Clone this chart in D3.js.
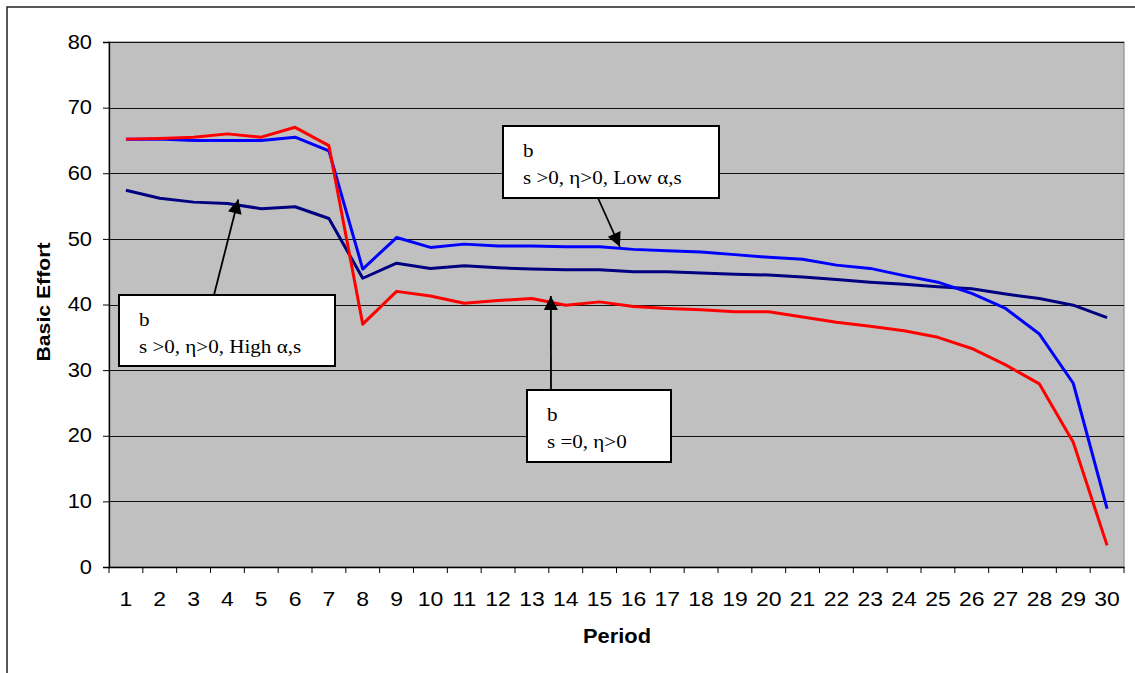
<!DOCTYPE html>
<html><head><meta charset="utf-8">
<script src="https://cdn.jsdelivr.net/npm/d3@7"></script>
<style>body{margin:0;background:#fff}svg{display:block}</style>
</head><body>
<svg id="c" width="1135" height="673"></svg>
<script>
const periods = d3.range(1, 31);
const yTicks = [0, 10, 20, 30, 40, 50, 60, 70, 80];
const highAlpha = [57.4,56.2,55.6,55.4,54.6,54.9,53.1,44.0,46.3,45.5,45.9,45.6,45.4,45.3,45.3,45.0,45.0,44.8,44.6,44.5,44.2,43.8,43.4,43.1,42.7,42.4,41.6,40.9,39.9,38.0];
const lowAlpha = [65.2,65.2,65.0,65.0,65.0,65.5,63.4,45.4,50.2,48.7,49.2,48.9,48.9,48.8,48.8,48.4,48.2,48.0,47.6,47.2,46.9,46.0,45.5,44.4,43.4,41.7,39.4,35.5,28.0,8.9];
const sZero = [65.2,65.3,65.5,66.0,65.5,67.0,64.2,37.0,42.0,41.3,40.2,40.6,40.9,39.9,40.4,39.7,39.4,39.2,38.9,38.9,38.1,37.3,36.7,36.0,35.0,33.3,30.8,27.9,19.0,3.3];
const seriesList = [
  {name:"High", values: highAlpha, color:"#000080"},
  {name:"Low", values: lowAlpha, color:"#0000FF"},
  {name:"Zero", values: sZero, color:"#FF0000"}
];
// annotation tips in data coordinates (period, value)
const notes = [
  {lines:["b","s >0, η>0, Low α,s"], box:[503,126,216,72], from:[598,198], period:15.6, value:48.8},
  {lines:["b","s >0, η>0, High α,s"], box:[119,295,216,71], from:[214,295], period:4.32, value:56.0},
  {lines:["b","s =0, η>0"], box:[527,390,144,72], from:[551,390], period:13.56, value:41.3}
];

const svg = d3.select("#c");
const L = 109, R = 1124, T = 42, B = 567;
const SX = 1.12;
const x = d3.scaleBand().domain(periods).range([L, R]).padding(0);
const xLin = d3.scaleLinear().domain([0.5, 30.5]).range([L, R]);
const y = d3.scaleLinear().domain([0, 80]).range([B, T]);
const sans = "Arial, 'Liberation Sans', sans-serif";

// outer frame
svg.append("rect").attr("x",7).attr("y",7).attr("width",1140).attr("height",700)
  .attr("fill","none").attr("stroke","#222").attr("stroke-width",1.5);

// plot bg
svg.append("rect").attr("x",L).attr("y",T).attr("width",R-L).attr("height",B-T)
  .attr("fill","#C0C0C0").attr("stroke","#8c8c8c").attr("stroke-width",1.2);

// gridlines
svg.append("g").selectAll("line").data(yTicks.filter(d=>d>0)).join("line")
  .attr("x1",L).attr("x2",R).attr("y1",d=>Math.round(y(d))+0.5).attr("y2",d=>Math.round(y(d))+0.5)
  .attr("stroke","#111").attr("stroke-width",1);

// y axis
const yAxis = svg.append("g").attr("transform",`translate(${L},0)`)
  .call(d3.axisLeft(y).tickValues(yTicks).tickSize(6).tickPadding(11));
yAxis.select(".domain").attr("stroke","#000").attr("stroke-width",1.3);
yAxis.selectAll("text").attr("font-family",sans).attr("font-size",19.5).attr("fill","#000")
  .attr("x",0).attr("transform",`translate(-17,0) scale(${SX},1)`);

// x axis
const xAxis = svg.append("g").attr("transform",`translate(0,${B})`)
  .call(d3.axisBottom(x).tickSize(0).tickPadding(24));
xAxis.select(".domain").attr("stroke","#000").attr("stroke-width",1.3);
xAxis.selectAll("text").attr("font-family",sans).attr("font-size",20.5).attr("fill","#000")
  .attr("transform",`scale(${SX},1)`);
// tick marks at category boundaries
svg.append("g").selectAll("line").data(d3.range(0.5, 31, 1)).join("line")
  .attr("x1",d=>xLin(d)).attr("x2",d=>xLin(d))
  .attr("y1",B).attr("y2",B+6).attr("stroke","#000").attr("stroke-width",1);

// lines
const line = d3.line().x((d,i)=>x(periods[i])+x.bandwidth()/2).y(d=>y(d));
svg.append("g").selectAll("path").data(seriesList).join("path")
  .attr("d",d=>line(d.values)).attr("fill","none").attr("stroke",d=>d.color)
  .attr("stroke-width",3).attr("stroke-linejoin","round");

// axis titles
svg.append("text").attr("transform",`translate(49.5,302) rotate(-90)`)
  .attr("text-anchor","middle").attr("font-family",sans)
  .attr("font-weight","bold").attr("font-size",19).attr("textLength",119).attr("lengthAdjust","spacingAndGlyphs")
  .text("Basic Effort");
svg.append("text").attr("transform",`translate(617,643) scale(${SX},1)`)
  .attr("text-anchor","middle").attr("font-family",sans)
  .attr("font-weight","bold").attr("font-size",19.5).text("Period");

// annotations
svg.append("defs").append("marker").attr("id","ah").attr("viewBox","0 0 10 10")
  .attr("refX",10).attr("refY",5).attr("markerWidth",16).attr("markerHeight",14)
  .attr("markerUnits","userSpaceOnUse").attr("orient","auto")
  .append("path").attr("d","M0,0L10,5L0,10Z").attr("fill","#000");

const ng = svg.append("g");
notes.forEach(n=>{
  const tx = xLin(n.period), ty = y(n.value);
  ng.append("line").attr("x1",n.from[0]).attr("y1",n.from[1]).attr("x2",tx).attr("y2",ty)
    .attr("stroke","#000").attr("stroke-width",1.8).attr("marker-end","url(#ah)");
  ng.append("rect").attr("x",n.box[0]).attr("y",n.box[1]).attr("width",n.box[2]).attr("height",n.box[3])
    .attr("fill","#fff").attr("stroke","#000").attr("stroke-width",2);
  n.lines.forEach((t,i)=>{
    ng.append("text").attr("transform",`translate(${n.box[0]+20},${n.box[1]+31+i*26.5}) scale(1.08,1)`)
      .attr("font-family","'Liberation Serif', 'Times New Roman', serif").attr("font-size",19.5)
      .attr("fill","#000").text(t);
  });
});
</script>
</body></html>
